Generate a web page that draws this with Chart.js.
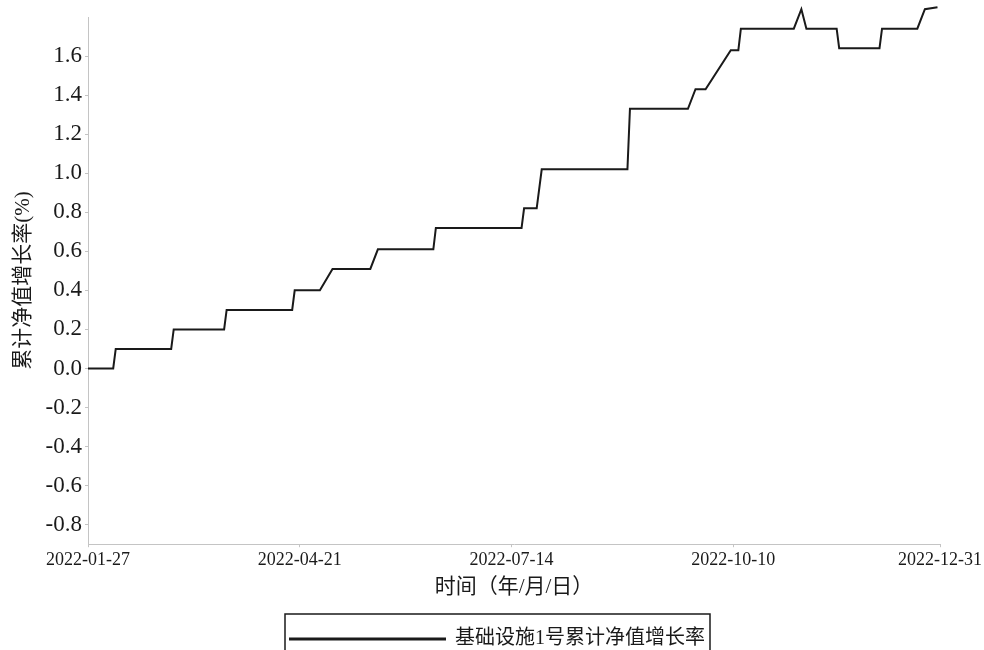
<!DOCTYPE html>
<html>
<head>
<meta charset="utf-8">
<script src="https://cdn.jsdelivr.net/npm/chart.js@4.4.0/dist/chart.umd.min.js"></script>
<style>
  html, body { margin: 0; padding: 0; background: #fff; }
  #wrap { width: 984px; height: 650px; position: relative; }
</style>
</head>
<body>
<div id="wrap"><canvas id="navChart"></canvas></div>
<script>
// 累计净值增长率（%），按拐点日期读取
const dates = ['2022-01-27', '2022-02-06', '2022-02-07', '2022-03-01', '2022-03-02', '2022-03-22', '2022-03-23',
    '2022-04-18', '2022-04-19', '2022-04-29', '2022-05-04', '2022-05-19', '2022-05-22', '2022-06-13', '2022-06-14',
    '2022-07-18', '2022-07-19', '2022-07-24', '2022-07-26', '2022-08-29', '2022-08-30', '2022-09-22', '2022-09-25',
    '2022-09-29', '2022-10-09', '2022-10-12', '2022-10-13', '2022-11-03', '2022-11-06', '2022-11-08', '2022-11-20',
    '2022-11-21', '2022-12-07', '2022-12-08', '2022-12-22', '2022-12-25', '2022-12-30'];
const values = [0, 0, 0.1, 0.1, 0.2, 0.2, 0.3,
    0.3, 0.4, 0.4, 0.51, 0.51, 0.61, 0.61, 0.72,
    0.72, 0.82, 0.82, 1.02, 1.02, 1.33, 1.33, 1.43,
    1.43, 1.63, 1.63, 1.74, 1.74, 1.84, 1.74, 1.74,
    1.64, 1.64, 1.74, 1.74, 1.84, 1.85];
const tickDates = ['2022-01-27', '2022-04-21', '2022-07-14', '2022-10-10', '2022-12-31'];
const yTicks = [-0.8, -0.6, -0.4, -0.2, 0, 0.2, 0.4, 0.6, 0.8, 1.0, 1.2, 1.4, 1.6];
const seriesName = '基础设施1号累计净值增长率';

const DAY = 86400000;
const start = Date.parse(tickDates[0]);
const toDay = d => Math.round((Date.parse(d) - start) / DAY);

const points = dates.map((d, i) => ({ x: toDay(d), y: values[i] }));
const xTickDays = tickDates.map(toDay);

const FONT = "'Liberation Serif', 'Noto Sans CJK SC', serif";
const INK = '#1a1a1a';
const AXIS = '#c4c4c4';

// 图例外框
const legendFrame = {
    id: 'legendFrame',
    afterDraw(chart) {
        const lg = chart.legend;
        if (!lg || !lg.legendHitBoxes || !lg.legendHitBoxes.length) return;
        const hb = lg.legendHitBoxes[0];
        const ctx = chart.ctx;
        ctx.save();
        ctx.strokeStyle = INK;
        ctx.lineWidth = 1.5;
        ctx.strokeRect(hb.left - 5, hb.top - 15, hb.width + 10, hb.height + 60);
        ctx.restore();
    }
};

new Chart(document.getElementById('navChart'), {
    type: 'line',
    data: {
        datasets: [{
            label: seriesName,
            data: points,
            borderColor: INK,
            backgroundColor: INK,
            borderWidth: 2,
            pointRadius: 0,
            tension: 0,
            clip: false
        }]
    },
    options: {
        responsive: true,
        maintainAspectRatio: false,
        animation: false,
        layout: { padding: { top: 17, right: 0, bottom: -9, left: 11 } },
        scales: {
            x: {
                type: 'linear',
                min: 0,
                max: toDay('2022-12-31'),
                afterBuildTicks: s => { s.ticks = xTickDays.map(v => ({ value: v })); },
                ticks: {
                    color: INK,
                    font: { family: FONT, size: 18 },
                    maxRotation: 0,
                    padding: 2,
                    callback: v => tickDates[xTickDays.indexOf(v)] || ''
                },
                grid: { drawOnChartArea: false, color: AXIS, tickLength: 3 },
                border: { color: AXIS, dash: [1, 2] },
                title: {
                    display: true,
                    text: '时间（年/月/日）',
                    color: INK,
                    font: { family: FONT, size: 21 },
                    padding: { top: 2, bottom: 0 }
                }
            },
            y: {
                min: -0.9,
                max: 1.8,
                afterBuildTicks: s => { s.ticks = yTicks.map(v => ({ value: v })); },
                afterFit: s => { s.width = 77; },
                ticks: {
                    color: INK,
                    font: { family: FONT, size: 23 },
                    padding: 3,
                    callback: v => v.toFixed(1)
                },
                grid: { drawOnChartArea: false, color: AXIS, tickLength: 3 },
                border: { color: AXIS, dash: [1, 2] },
                title: {
                    display: true,
                    text: '累计净值增长率(%)',
                    color: INK,
                    font: { family: FONT, size: 21 },
                    padding: { top: 0, bottom: 0 }
                }
            }
        },
        plugins: {
            legend: {
                position: 'bottom',
                labels: {
                    color: INK,
                    font: { family: FONT, size: 20 },
                    boxWidth: 155,
                    boxHeight: 1,
                    padding: 29
                }
            },
            tooltip: { enabled: false }
        }
    },
    plugins: [legendFrame]
});
</script>
</body>
</html>
